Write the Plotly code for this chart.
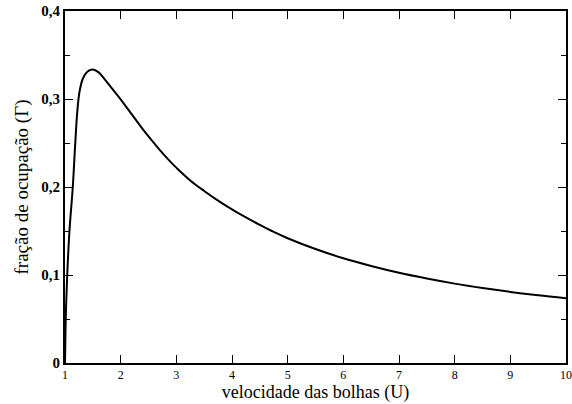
import plotly.graph_objects as go

# data
U = [1.0, 1.01, 1.02, 1.04, 1.08, 1.14, 1.18, 1.22, 1.26, 1.32,
     1.4, 1.5, 1.6, 1.7, 1.8, 1.9, 2.0, 2.1, 2.2, 2.3, 2.4, 2.5, 2.6, 2.7, 2.8, 2.9, 3.0,
     3.25, 3.5, 3.75, 4.0, 4.25, 4.5, 4.75, 5.0,
     5.5, 6.0, 6.5, 7.0, 7.5, 8.0, 8.5, 9.0, 9.5, 10.0]
gamma = [0.0, 0.04, 0.065, 0.10, 0.15, 0.20, 0.245, 0.285, 0.308, 0.323,
         0.331, 0.3335, 0.3305, 0.3235, 0.3155, 0.3075, 0.2995, 0.291, 0.2825, 0.274, 0.2655, 0.2575, 0.2498, 0.2423, 0.235, 0.2283, 0.222,
         0.2075, 0.1955, 0.1845, 0.1745, 0.1655, 0.157, 0.149, 0.1418,
         0.1295, 0.1190, 0.1102, 0.1025, 0.0960, 0.0902, 0.0852, 0.0808, 0.0769, 0.0735]

x_ticks = [1, 2, 3, 4, 5, 6, 7, 8, 9, 10]
y_ticks = [0, 0.1, 0.2, 0.3, 0.4]
y_ticktext = ["<b>0</b>", "<b>0,1</b>", "<b>0,2</b>", "<b>0,3</b>", "<b>0,4</b>"]

serif = "Liberation Serif, Times New Roman, serif"

fig = go.Figure()
fig.add_trace(go.Scatter(x=U, y=gamma, mode="lines",
                         line=dict(color="black", width=2, shape="spline", smoothing=1.0),
                         showlegend=False, hoverinfo="skip"))

fig.update_layout(
    width=572, height=404,
    margin=dict(l=65, r=6, t=11, b=41, autoexpand=False),
    paper_bgcolor="white", plot_bgcolor="white",
    font=dict(family=serif, color="black"),
)
fig.update_xaxes(
    range=[1, 10], tickvals=x_ticks, ticktext=[str(v) for v in x_ticks],
    showgrid=False, zeroline=False, automargin=False, ticklabeloverflow="allow",
    showline=True, linecolor="black", linewidth=2, mirror="ticks",
    ticks="inside", ticklen=8, tickwidth=1, tickcolor="black",
    tickfont=dict(family=serif, size=12, color="black"),
    title=dict(text="velocidade das bolhas (U)", font=dict(family=serif, size=18, color="black"), standoff=2),
)
fig.update_yaxes(
    range=[0, 0.4], tickvals=y_ticks, ticktext=y_ticktext,
    showgrid=False, zeroline=False, automargin=False,
    showline=True, linecolor="black", linewidth=2, mirror="ticks",
    ticks="inside", ticklen=8, tickwidth=1, tickcolor="black",
    minor=dict(dtick=0.05, ticks="inside", ticklen=5, tickcolor="black", showgrid=False),
    tickfont=dict(family=serif, size=15, color="black"),
    title=dict(text="fração de ocupação (Γ)", font=dict(family=serif, size=19, color="black"), standoff=8),
)

fig.write_html("out.html")
